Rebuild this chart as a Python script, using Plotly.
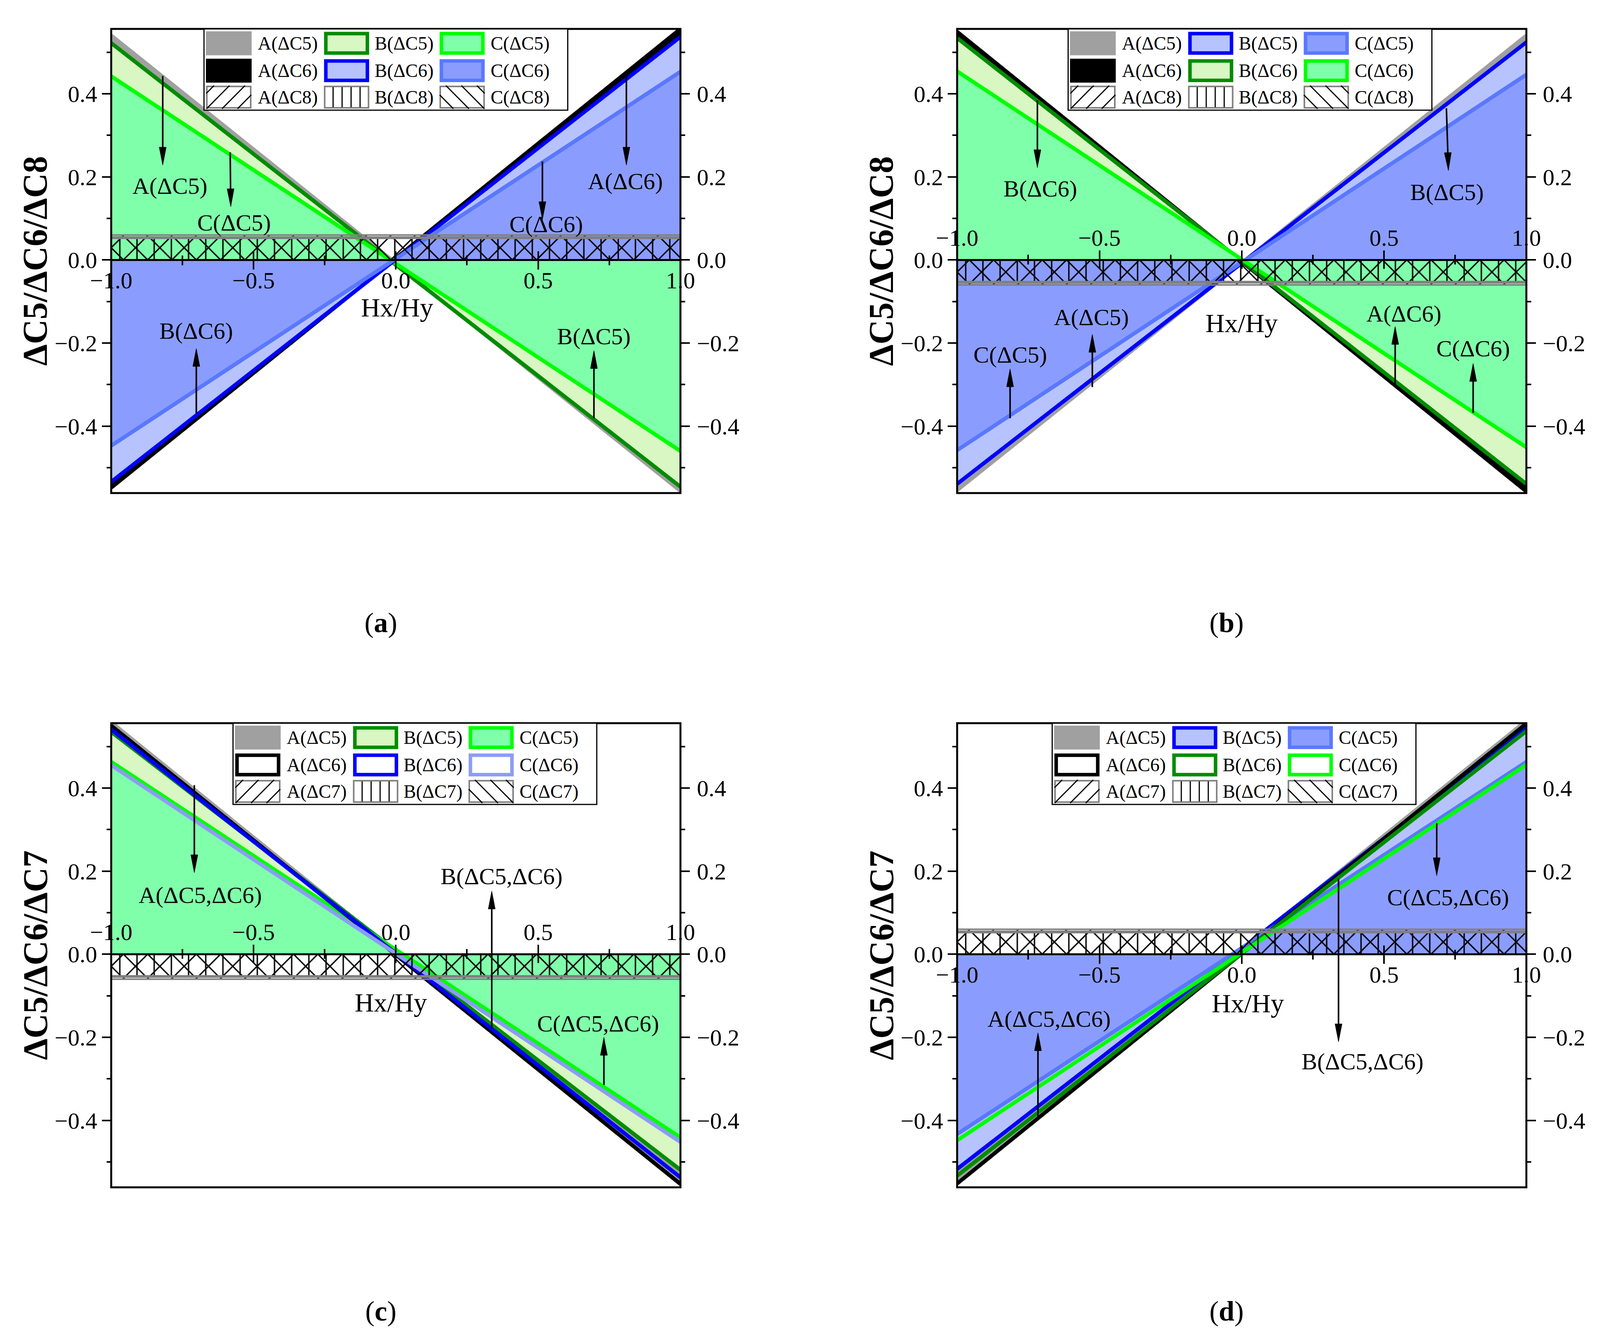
import math
import plotly.graph_objects as go

# ---------------- data ----------------
XS = [-1.0, 1.0]                      # Hx/Hy end points of every straight line
X_TICKS = [-1.0, -0.5, 0.0, 0.5, 1.0]
Y_TICKS = [-0.4, -0.2, 0.0, 0.2, 0.4]

# panel (a)
A_DC5_A = [0.540, -0.556]
B_DC5_A = [0.522, -0.546]
C_DC5_A = [0.442, -0.460]
A_DC6_A = [-0.548, 0.556]
B_DC6_A = [-0.534, 0.537]
C_DC6_A = [-0.447, 0.453]
A_DC8_A = [0.060, 0.060]
B_DC8_A = [0.055, 0.055]
C_DC8_A = [0.052, 0.052]
# panel (b)
A_DC5_B = [-0.554, 0.540]
B_DC5_B = [-0.539, 0.524]
C_DC5_B = [-0.458, 0.446]
A_DC6_B = [0.549, -0.557]
B_DC6_B = [0.534, -0.539]
C_DC6_B = [0.454, -0.451]
A_DC8_B = [-0.060, -0.060]
B_DC8_B = [-0.055, -0.055]
C_DC8_B = [-0.052, -0.052]
# panel (c)
A_DC5_C = [0.558, -0.550]
B_DC5_C = [0.535, -0.519]
C_DC5_C = [0.463, -0.441]
A_DC6_C = [0.550, -0.553]
B_DC6_C = [0.541, -0.537]
C_DC6_C = [0.455, -0.452]
A_DC7_C = [-0.060, -0.060]
B_DC7_C = [-0.055, -0.055]
C_DC7_C = [-0.052, -0.052]
# panel (d)
A_DC5_D = [-0.545, 0.562]
B_DC5_D = [-0.517, 0.544]
C_DC5_D = [-0.433, 0.463]
A_DC6_D = [-0.552, 0.555]
B_DC6_D = [-0.533, 0.537]
C_DC6_D = [-0.448, 0.456]
A_DC7_D = [0.060, 0.060]
B_DC7_D = [0.055, 0.055]
C_DC7_D = [0.052, 0.052]

LABELS_8 = ['A(ΔC5)', 'B(ΔC5)', 'C(ΔC5)', 'A(ΔC6)', 'B(ΔC6)', 'C(ΔC6)', 'A(ΔC8)', 'B(ΔC8)', 'C(ΔC8)']
LABELS_7 = ['A(ΔC5)', 'B(ΔC5)', 'C(ΔC5)', 'A(ΔC6)', 'B(ΔC6)', 'C(ΔC6)', 'A(ΔC7)', 'B(ΔC7)', 'C(ΔC7)']

# ---------------- styles ----------------
FONT = 'Liberation Serif'
GRAY = '#a0a0a0'
BLACK = '#000000'
DKGREEN = '#008c00'
LTGREEN = '#d8f7c3'
BRGREEN = '#00ff00'
MINT = '#80ffaa'
BLUE = '#0000ff'
LTBLUE = '#b6c3ff'
MEDLINE = '#5a78ff'
MEDFILL = '#8a9dff'
LAV = '#8c9cf7'
HGRAY = '#808080'

FIG_W, FIG_H = 4129, 3440
YR = [-0.561, 0.556]
LW = 10
TICK_SIZE = 60
NOTE_SIZE = 60
LEG_SIZE = 48
HEAD_LEN, HEAD_HALF, SHAFT_W = 46, 9, 4

PANELS = [
    dict(px=(287, 1756, 74, 1262), caption='a', ytitle='ΔC5/ΔC6/ΔC8', side='bottom',
         series=[(A_DC5_A, GRAY, GRAY, 'fill'), (B_DC5_A, DKGREEN, LTGREEN, 'fill'),
                 (C_DC5_A, BRGREEN, MINT, 'fill'), (A_DC6_A, BLACK, BLACK, 'fill'),
                 (B_DC6_A, BLUE, LTBLUE, 'fill'), (C_DC6_A, MEDLINE, MEDFILL, 'fill')],
         band=[(A_DC8_A, '/'), (B_DC8_A, '|'), (C_DC8_A, '\\')], labels=LABELS_8,
         leg_left=0.163, xtitle=(0.004, -0.114),
         notes=[('A(ΔC5)', -0.794, 0.178), ('C(ΔC5)', -0.568, 0.090), ('A(ΔC6)', 0.806, 0.189),
                ('C(ΔC6)', 0.529, 0.086), ('B(ΔC6)', -0.701, -0.171), ('B(ΔC5)', 0.696, -0.184)],
         arrows=[(-0.819, 0.443, -0.819, 0.228), (-0.582, 0.259, -0.580, 0.128),
                 (0.810, 0.447, 0.810, 0.228), (0.515, 0.237, 0.515, 0.097),
                 (-0.701, -0.370, -0.701, -0.213), (0.696, -0.381, 0.696, -0.218)]),
    dict(px=(2470, 3939, 74, 1262), caption='b', ytitle='ΔC5/ΔC6/ΔC8', side='top',
         series=[(A_DC5_B, GRAY, GRAY, 'fill'), (B_DC5_B, BLUE, LTBLUE, 'fill'),
                 (C_DC5_B, MEDLINE, MEDFILL, 'fill'), (A_DC6_B, BLACK, BLACK, 'fill'),
                 (B_DC6_B, DKGREEN, LTGREEN, 'fill'), (C_DC6_B, BRGREEN, MINT, 'fill')],
         band=[(A_DC8_B, '/'), (B_DC8_B, '|'), (C_DC8_B, '\\')], labels=LABELS_8,
         leg_left=0.195, xtitle=(0.0, -0.152),
         notes=[('B(ΔC6)', -0.708, 0.171), ('B(ΔC5)', 0.722, 0.163), ('A(ΔC5)', -0.528, -0.138),
                ('C(ΔC5)', -0.813, -0.228), ('A(ΔC6)', 0.570, -0.129), ('C(ΔC6)', 0.814, -0.213)],
         arrows=[(-0.718, 0.384, -0.718, 0.222), (0.719, 0.365, 0.726, 0.215),
                 (-0.525, -0.306, -0.525, -0.179), (-0.814, -0.381, -0.814, -0.262),
                 (0.539, -0.300, 0.539, -0.160), (0.813, -0.368, 0.813, -0.249)]),
    dict(px=(287, 1756, 1851, 3039), caption='c', ytitle='ΔC5/ΔC6/ΔC7', side='top',
         series=[(A_DC5_C, GRAY, GRAY, 'fill'), (B_DC5_C, DKGREEN, LTGREEN, 'fill'),
                 (C_DC5_C, BRGREEN, MINT, 'fill'), (A_DC6_C, BLACK, None, 'line'),
                 (B_DC6_C, BLUE, None, 'line'), (C_DC6_C, LAV, None, 'line')],
         band=[(A_DC7_C, '/'), (B_DC7_C, '|'), (C_DC7_C, '\\')], labels=LABELS_7,
         leg_left=0.214, xtitle=(-0.018, -0.116),
         notes=[('A(ΔC5,ΔC6)', -0.686, 0.142), ('B(ΔC5,ΔC6)', 0.372, 0.187),
                ('C(ΔC5,ΔC6)', 0.710, -0.167)],
         arrows=[(-0.708, 0.407, -0.708, 0.196), (0.337, -0.179, 0.337, 0.152),
                 (0.731, -0.315, 0.731, -0.200)]),
    dict(px=(2470, 3939, 1851, 3039), caption='d', ytitle='ΔC5/ΔC6/ΔC7', side='bottom',
         series=[(A_DC5_D, GRAY, GRAY, 'fill'), (B_DC5_D, BLUE, LTBLUE, 'fill'),
                 (C_DC5_D, MEDLINE, MEDFILL, 'fill'), (A_DC6_D, BLACK, None, 'line'),
                 (B_DC6_D, DKGREEN, None, 'line'), (C_DC6_D, BRGREEN, None, 'line')],
         band=[(A_DC7_D, '/'), (B_DC7_D, '|'), (C_DC7_D, '\\')], labels=LABELS_7,
         leg_left=0.167, xtitle=(0.022, -0.118),
         notes=[('C(ΔC5,ΔC6)', 0.725, 0.137), ('B(ΔC5,ΔC6)', 0.424, -0.258),
                ('A(ΔC5,ΔC6)', -0.677, -0.156)],
         arrows=[(0.685, 0.315, 0.685, 0.189), (0.340, 0.181, 0.340, -0.211),
                 (-0.716, -0.393, -0.716, -0.189)]),
]


def fmt(v):
    s = f'{v:.1f}'
    return s.replace('-', '\u2212')


def aid(letter, n):
    return letter if n == 1 else f'{letter}{n}'


def akey(letter, n):
    return f'{letter}axis' if n == 1 else f'{letter}axis{n}'


fig = go.Figure()
layout = dict(template='none', autosize=False, width=FIG_W, height=FIG_H,
              margin=dict(l=0, r=0, t=0, b=0, pad=0),
              paper_bgcolor='white', plot_bgcolor='rgba(0,0,0,0)',
              font=dict(family=FONT, color='black', size=56), showlegend=False)
shapes = []
annotations = []

TICKFONT = dict(family=FONT, size=TICK_SIZE, color='black')

for k, P in enumerate(PANELS, start=1):
    xl, xr, yt, yb = P['px']
    dom_x = [xl / FIG_W, xr / FIG_W]
    dom_y = [1 - yb / FIG_H, 1 - yt / FIG_H]
    zero_frac = (0 - YR[0]) / (YR[1] - YR[0])
    pos = dom_y[0] + zero_frac * (dom_y[1] - dom_y[0])
    wp, hp = xr - xl, yb - yt

    xid, yid = aid('x', k), aid('y', k)
    xo, yo = aid('x', k + 4), aid('y', k + 4)

    # ---- traces ----
    for ys, lc, fc, kind in P['series']:
        if kind == 'fill':
            fig.add_trace(go.Scatter(x=XS, y=ys, mode='lines', line=dict(color=lc, width=LW),
                                     fill='tozeroy', fillcolor=fc, xaxis=xid, yaxis=yid,
                                     hoverinfo='skip'))
    for ys, lc, fc, kind in P['series']:
        if kind == 'line':
            fig.add_trace(go.Scatter(x=XS, y=ys, mode='lines', line=dict(color=lc, width=LW),
                                     xaxis=xid, yaxis=yid, hoverinfo='skip'))
    for ys, shp in P['band']:
        fig.add_trace(go.Scatter(x=XS, y=ys, mode='lines', line=dict(color=HGRAY, width=4),
                                 fill='tozeroy', fillcolor='rgba(0,0,0,0)',
                                 fillpattern=dict(shape=shp, fgcolor='black',
                                                  bgcolor='rgba(0,0,0,0)', size=44,
                                                  solidity=0.08),
                                 xaxis=xid, yaxis=yid, hoverinfo='skip'))
    # invisible traces so the overlay axes get their subplots
    fig.add_trace(go.Scatter(x=XS, y=[None, None], xaxis=xo, yaxis=yid, hoverinfo='skip'))
    fig.add_trace(go.Scatter(x=XS, y=[None, None], xaxis=xid, yaxis=yo, hoverinfo='skip'))

    # ---- axes ----
    side = P['side']
    layout[akey('x', k)] = dict(domain=dom_x, range=[-1, 1], anchor='free', position=pos,
                                side=side, showline=True, linecolor='black', linewidth=5,
                                ticks='outside', ticklen=22, tickwidth=4, tickcolor='black',
                                tickmode='array', tickvals=X_TICKS,
                                ticktext=[fmt(v) for v in X_TICKS],
                                ticklabelstandoff=-24 if side == 'bottom' else -12,
                                minor=dict(dtick=0.25, tick0=0, ticks='outside', ticklen=11,
                                           tickwidth=4, tickcolor='black', showgrid=False),
                                showgrid=False, zeroline=False, tickfont=TICKFONT,
                                automargin=False, fixedrange=True)
    layout[akey('x', k + 4)] = dict(overlaying=xid, range=[-1, 1], anchor='free', position=pos,
                                    side=side, showline=False, ticks='inside', ticklen=22,
                                    tickwidth=4, tickcolor='black', tickmode='array',
                                    tickvals=X_TICKS,
                                    minor=dict(dtick=0.25, tick0=0, ticks='inside', ticklen=11,
                                               tickwidth=4, tickcolor='black', showgrid=False),
                                    showticklabels=False, showgrid=False, zeroline=False,
                                    automargin=False, fixedrange=True)
    ycommon = dict(range=YR, ticks='outside', ticklen=23, tickwidth=4, tickcolor='black',
                   tickmode='array', tickvals=Y_TICKS, ticktext=[fmt(v) for v in Y_TICKS],
                   minor=dict(dtick=0.1, tick0=0, ticks='outside', ticklen=11, tickwidth=4,
                              tickcolor='black', showgrid=False),
                   showgrid=False, zeroline=False, showline=False, tickfont=TICKFONT,
                   automargin=False, fixedrange=True)
    layout[akey('y', k)] = dict(domain=dom_y, anchor=xid, side='left', ticklabelstandoff=0,
                                **ycommon)
    layout[akey('y', k + 4)] = dict(overlaying=yid, anchor=xid, side='right',
                                    ticklabelstandoff=6, **ycommon)

    xdom, ydom = f'{xid} domain', f'{yid} domain'

    # frame
    shapes.append(dict(type='rect', xref=xdom, yref=ydom, x0=0, x1=1, y0=0, y1=1,
                       line=dict(color='black', width=5), layer='above'))

    # ---- legend (drawn by hand, 3 x 3) ----
    L = P['leg_left']
    shapes.append(dict(type='rect', xref=xdom, yref=ydom, x0=L, x1=L + 0.639, y0=0.825, y1=1.0,
                       fillcolor='white', line=dict(color='black', width=3), layer='above'))
    col_sw = [0.004, 0.211, 0.414]
    col_tx = [0.093, 0.298, 0.502]
    row_y0 = [0.944, 0.885, 0.828]
    SWF, SHF = 0.079, 0.050
    sw_px, sh_px = SWF * wp, SHF * hp
    items = [(s[1], s[2], s[3]) for s in P['series']] + [(None, None, b[1]) for b in P['band']]
    for idx, (lc, fc, kind) in enumerate(items):
        r, c = divmod(idx, 3)
        x0 = L + col_sw[c]
        y0 = row_y0[r]
        x1, y1 = x0 + SWF, y0 + SHF
        if kind == 'fill' and lc == fc:
            shapes.append(dict(type='rect', xref=xdom, yref=ydom, x0=x0, x1=x1, y0=y0, y1=y1,
                               fillcolor=fc, line=dict(color=fc, width=2), layer='above'))
        elif kind == 'fill':
            shapes.append(dict(type='rect', xref=xdom, yref=ydom, x0=x0 + 0.003, x1=x1 - 0.003,
                               y0=y0 + 0.004, y1=y1 - 0.004,
                               fillcolor=fc, line=dict(color=lc, width=9), layer='above'))
        elif kind == 'line':
            shapes.append(dict(type='rect', xref=xdom, yref=ydom, x0=x0 + 0.003, x1=x1 - 0.003,
                               y0=y0 + 0.004, y1=y1 - 0.004,
                               fillcolor='white', line=dict(color=lc, width=9), layer='above'))
        else:
            shapes.append(dict(type='rect', xref=xdom, yref=ydom, x0=x0 + 0.001, x1=x1 - 0.001,
                               y0=y0 + 0.002, y1=y1 - 0.002,
                               fillcolor='white', line=dict(color=HGRAY, width=4), layer='above'))
            segs = []
            if kind == '|':
                for j in range(1, 5):
                    xx = sw_px * j / 5
                    segs.append((xx, 4, xx, sh_px - 4))
            else:
                d = 40
                cc = -sh_px + 20
                while cc < sw_px - 10:
                    xa, xb = max(0, cc), min(sw_px, sh_px + cc)
                    if xb > xa:
                        segs.append((xa, xa - cc, xb, xb - cc))
                    cc += d
                if kind == '\\':
                    segs = [(sw_px - a, b, sw_px - c2, d2) for a, b, c2, d2 in segs]
            for a, b, c2, d2 in segs:
                shapes.append(dict(type='line', xref=xdom, yref=ydom,
                                   x0=x0 + a / wp, y0=y0 + b / hp, x1=x0 + c2 / wp, y1=y0 + d2 / hp,
                                   line=dict(color='black', width=3), layer='above'))
        annotations.append(dict(text=P['labels'][idx], xref=xdom, yref=ydom,
                                x=L + col_tx[c], y=y0 + SHF / 2, xanchor='left', yanchor='middle',
                                showarrow=False, font=dict(family=FONT, size=LEG_SIZE, color='black')))

    # ---- in-plot notes ----
    for txt, xx, yy in P['notes']:
        annotations.append(dict(text=txt, x=xx, y=yy, xref=xid, yref=yid, showarrow=False,
                                xanchor='center', yanchor='middle',
                                font=dict(family=FONT, size=NOTE_SIZE, color='black')))

    # ---- pointer arrows: shaft + long narrow head ----
    sx = wp / 2.0                     # px per x unit
    sy = hp / (YR[1] - YR[0])         # px per y unit
    for tx, ty, hx, hy in P['arrows']:
        dxp, dyp = (hx - tx) * sx, (hy - ty) * sy
        ln = math.hypot(dxp, dyp)
        ux, uy = dxp / ln, dyp / ln
        bx, by = hx - ux * HEAD_LEN / sx, hy - uy * HEAD_LEN / sy
        nx, ny = -uy * HEAD_HALF / sx, ux * HEAD_HALF / sy
        shapes.append(dict(type='line', xref=xid, yref=yid, x0=tx, y0=ty,
                           x1=bx + ux * 4 / sx, y1=by + uy * 4 / sy,
                           line=dict(color='black', width=SHAFT_W), layer='above'))
        shapes.append(dict(type='path', xref=xid, yref=yid,
                           path=f'M {hx},{hy} L {bx + nx},{by + ny} L {bx - nx},{by - ny} Z',
                           fillcolor='black', line=dict(color='black', width=1), layer='above'))

    # x title
    annotations.append(dict(text='Hx/Hy', x=P['xtitle'][0], y=P['xtitle'][1], xref=xid, yref=yid,
                            showarrow=False, xanchor='center', yanchor='middle',
                            font=dict(family=FONT, size=68, color='black')))
    # y title
    annotations.append(dict(text=f"<b>{P['ytitle']}</b>", xref='paper', yref='paper',
                            x=(xl - 196) / FIG_W, y=(dom_y[0] + dom_y[1]) / 2, textangle=-90,
                            showarrow=False, xanchor='center', yanchor='middle',
                            font=dict(family=FONT, size=88, color='black')))
    # caption
    cap_y = 1594 if yt < 1000 else 3356
    annotations.append(dict(text=f"(<b>{P['caption']}</b>)", xref='paper', yref='paper',
                            x=((xl + xr) / 2 - 39) / FIG_W, y=1 - cap_y / FIG_H, showarrow=False,
                            xanchor='center', yanchor='middle',
                            font=dict(family=FONT, size=72, color='black')))

layout['shapes'] = shapes
layout['annotations'] = annotations
fig.update_layout(**layout)

# page without body margin / scrollbars; figure fills the browser viewport
FIT_PAGE = (
    "document.documentElement.style.margin='0';"
    "document.documentElement.style.overflow='hidden';"
    "document.body.style.margin='0';"
    "document.body.style.overflow='hidden';"
    "var gd=document.getElementById('{plot_id}');"
    "Plotly.relayout(gd,{width:window.innerWidth,height:window.innerHeight});"
)
fig.write_html('out.html', post_script=FIT_PAGE,
               config={'displayModeBar': False, 'staticPlot': True})
